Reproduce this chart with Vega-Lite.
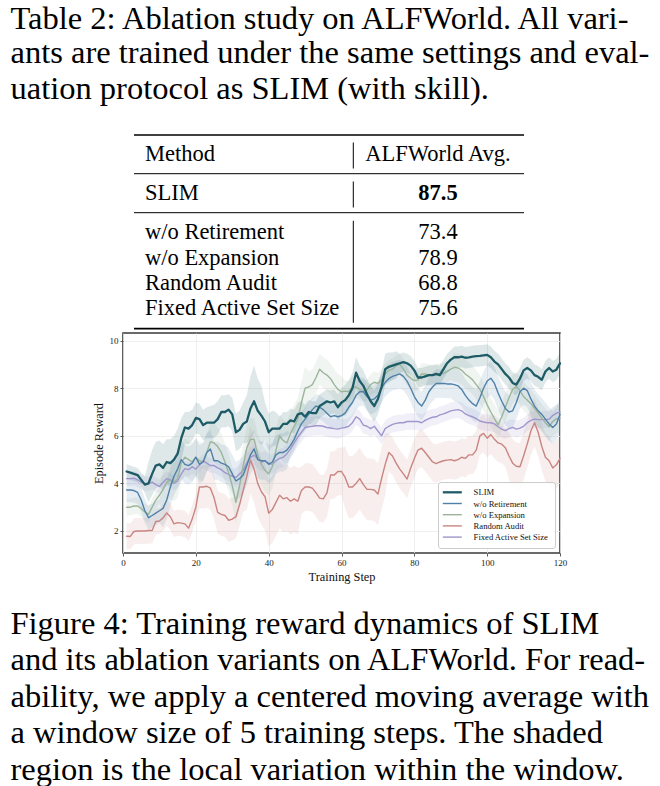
{
"$schema": "https://vega.github.io/schema/vega-lite/v6.json",
"padding": 0,
"background": "white",
"spacing": 0,
"resolve": {"scale": {"stroke": "independent", "fill": "independent"}, "legend": {"stroke": "independent", "fill": "independent"}},
"config": {"font": "Liberation Serif", "view": {"stroke": null}, "concat": {"spacing": 0}},
"datasets": {
"table": [
{"row":0,"method":"Method","value":"ALFWorld Avg."},
{"row":1,"method":"SLIM","value":"87.5"},
{"row":2,"method":"w/o Retirement","value":"73.4"},
{"row":3,"method":"w/o Expansion","value":"78.9"},
{"row":4,"method":"Random Audit","value":"68.8"},
{"row":5,"method":"Fixed Active Set Size","value":"75.6"}
],
"curves": [
{"series":"Random Audit","step":1,"reward":1.78,"lo":1.23,"hi":2.33},
{"series":"Random Audit","step":2,"reward":1.77,"lo":1.22,"hi":2.32},
{"series":"Random Audit","step":3,"reward":1.98,"lo":1.43,"hi":2.53},
{"series":"Random Audit","step":4,"reward":2.00,"lo":1.45,"hi":2.55},
{"series":"Random Audit","step":5,"reward":2.00,"lo":1.45,"hi":2.55},
{"series":"Random Audit","step":6,"reward":2.00,"lo":1.45,"hi":2.55},
{"series":"Random Audit","step":7,"reward":2.02,"lo":1.47,"hi":2.57},
{"series":"Random Audit","step":8,"reward":2.02,"lo":1.47,"hi":2.57},
{"series":"Random Audit","step":9,"reward":2.40,"lo":1.85,"hi":2.95},
{"series":"Random Audit","step":10,"reward":2.42,"lo":1.87,"hi":2.97},
{"series":"Random Audit","step":11,"reward":2.55,"lo":2.00,"hi":3.10},
{"series":"Random Audit","step":12,"reward":2.76,"lo":2.21,"hi":3.31},
{"series":"Random Audit","step":13,"reward":2.60,"lo":2.05,"hi":3.15},
{"series":"Random Audit","step":14,"reward":2.30,"lo":1.75,"hi":2.85},
{"series":"Random Audit","step":15,"reward":2.35,"lo":1.80,"hi":2.90},
{"series":"Random Audit","step":16,"reward":2.33,"lo":1.78,"hi":2.88},
{"series":"Random Audit","step":17,"reward":2.30,"lo":1.75,"hi":2.85},
{"series":"Random Audit","step":18,"reward":2.12,"lo":1.57,"hi":2.67},
{"series":"Random Audit","step":19,"reward":2.50,"lo":1.95,"hi":3.05},
{"series":"Random Audit","step":20,"reward":3.00,"lo":2.45,"hi":3.55},
{"series":"Random Audit","step":21,"reward":3.85,"lo":2.95,"hi":4.75},
{"series":"Random Audit","step":22,"reward":3.85,"lo":2.95,"hi":4.75},
{"series":"Random Audit","step":23,"reward":3.88,"lo":2.98,"hi":4.78},
{"series":"Random Audit","step":24,"reward":3.80,"lo":2.90,"hi":4.70},
{"series":"Random Audit","step":25,"reward":3.40,"lo":2.50,"hi":4.30},
{"series":"Random Audit","step":26,"reward":2.78,"lo":1.88,"hi":3.68},
{"series":"Random Audit","step":27,"reward":2.70,"lo":1.80,"hi":3.60},
{"series":"Random Audit","step":28,"reward":2.65,"lo":1.75,"hi":3.55},
{"series":"Random Audit","step":29,"reward":2.45,"lo":1.55,"hi":3.35},
{"series":"Random Audit","step":30,"reward":2.50,"lo":1.60,"hi":3.40},
{"series":"Random Audit","step":31,"reward":2.60,"lo":1.70,"hi":3.50},
{"series":"Random Audit","step":32,"reward":3.10,"lo":2.20,"hi":4.00},
{"series":"Random Audit","step":33,"reward":3.70,"lo":2.80,"hi":4.60},
{"series":"Random Audit","step":34,"reward":4.30,"lo":2.90,"hi":5.70},
{"series":"Random Audit","step":35,"reward":4.98,"lo":3.58,"hi":6.38},
{"series":"Random Audit","step":36,"reward":4.60,"lo":3.20,"hi":6.00},
{"series":"Random Audit","step":37,"reward":4.00,"lo":2.60,"hi":5.40},
{"series":"Random Audit","step":38,"reward":3.65,"lo":2.25,"hi":5.05},
{"series":"Random Audit","step":39,"reward":3.44,"lo":2.04,"hi":4.84},
{"series":"Random Audit","step":40,"reward":2.75,"lo":1.35,"hi":4.15},
{"series":"Random Audit","step":41,"reward":2.90,"lo":1.50,"hi":4.30},
{"series":"Random Audit","step":42,"reward":3.20,"lo":1.80,"hi":4.60},
{"series":"Random Audit","step":43,"reward":3.50,"lo":2.10,"hi":4.90},
{"series":"Random Audit","step":44,"reward":3.35,"lo":1.95,"hi":4.75},
{"series":"Random Audit","step":45,"reward":3.40,"lo":2.00,"hi":4.80},
{"series":"Random Audit","step":46,"reward":3.25,"lo":1.85,"hi":4.65},
{"series":"Random Audit","step":47,"reward":3.35,"lo":1.95,"hi":4.75},
{"series":"Random Audit","step":48,"reward":3.25,"lo":1.85,"hi":4.65},
{"series":"Random Audit","step":49,"reward":3.70,"lo":2.70,"hi":4.70},
{"series":"Random Audit","step":50,"reward":3.85,"lo":2.85,"hi":4.85},
{"series":"Random Audit","step":51,"reward":3.85,"lo":2.85,"hi":4.85},
{"series":"Random Audit","step":52,"reward":3.80,"lo":2.80,"hi":4.80},
{"series":"Random Audit","step":53,"reward":3.60,"lo":2.60,"hi":4.60},
{"series":"Random Audit","step":54,"reward":3.38,"lo":2.38,"hi":4.38},
{"series":"Random Audit","step":55,"reward":3.35,"lo":2.35,"hi":4.35},
{"series":"Random Audit","step":56,"reward":3.60,"lo":2.60,"hi":4.60},
{"series":"Random Audit","step":57,"reward":4.35,"lo":3.35,"hi":5.35},
{"series":"Random Audit","step":58,"reward":4.35,"lo":3.35,"hi":5.35},
{"series":"Random Audit","step":59,"reward":4.50,"lo":3.50,"hi":5.50},
{"series":"Random Audit","step":60,"reward":4.50,"lo":3.50,"hi":5.50},
{"series":"Random Audit","step":61,"reward":4.25,"lo":2.95,"hi":5.55},
{"series":"Random Audit","step":62,"reward":3.85,"lo":2.55,"hi":5.15},
{"series":"Random Audit","step":63,"reward":3.85,"lo":2.55,"hi":5.15},
{"series":"Random Audit","step":64,"reward":4.00,"lo":2.70,"hi":5.30},
{"series":"Random Audit","step":65,"reward":4.20,"lo":2.90,"hi":5.50},
{"series":"Random Audit","step":66,"reward":3.95,"lo":2.65,"hi":5.25},
{"series":"Random Audit","step":67,"reward":3.75,"lo":2.45,"hi":5.05},
{"series":"Random Audit","step":68,"reward":3.75,"lo":2.45,"hi":5.05},
{"series":"Random Audit","step":69,"reward":3.72,"lo":2.42,"hi":5.02},
{"series":"Random Audit","step":70,"reward":3.55,"lo":2.25,"hi":4.85},
{"series":"Random Audit","step":71,"reward":4.20,"lo":2.90,"hi":5.50},
{"series":"Random Audit","step":72,"reward":4.80,"lo":3.50,"hi":6.10},
{"series":"Random Audit","step":73,"reward":5.30,"lo":4.50,"hi":6.10},
{"series":"Random Audit","step":74,"reward":5.15,"lo":4.35,"hi":5.95},
{"series":"Random Audit","step":75,"reward":4.85,"lo":4.05,"hi":5.65},
{"series":"Random Audit","step":76,"reward":4.60,"lo":3.80,"hi":5.40},
{"series":"Random Audit","step":77,"reward":4.40,"lo":3.60,"hi":5.20},
{"series":"Random Audit","step":78,"reward":4.18,"lo":3.38,"hi":4.98},
{"series":"Random Audit","step":79,"reward":4.65,"lo":3.85,"hi":5.45},
{"series":"Random Audit","step":80,"reward":5.05,"lo":4.25,"hi":5.85},
{"series":"Random Audit","step":81,"reward":5.40,"lo":4.60,"hi":6.20},
{"series":"Random Audit","step":82,"reward":5.48,"lo":4.68,"hi":6.28},
{"series":"Random Audit","step":83,"reward":5.30,"lo":4.50,"hi":6.10},
{"series":"Random Audit","step":84,"reward":5.10,"lo":4.30,"hi":5.90},
{"series":"Random Audit","step":85,"reward":4.90,"lo":4.10,"hi":5.70},
{"series":"Random Audit","step":86,"reward":4.83,"lo":4.03,"hi":5.63},
{"series":"Random Audit","step":87,"reward":4.90,"lo":4.10,"hi":5.70},
{"series":"Random Audit","step":88,"reward":4.95,"lo":4.15,"hi":5.75},
{"series":"Random Audit","step":89,"reward":4.98,"lo":4.18,"hi":5.78},
{"series":"Random Audit","step":90,"reward":5.00,"lo":4.20,"hi":5.80},
{"series":"Random Audit","step":91,"reward":4.95,"lo":4.15,"hi":5.75},
{"series":"Random Audit","step":92,"reward":5.00,"lo":4.20,"hi":5.80},
{"series":"Random Audit","step":93,"reward":5.10,"lo":4.30,"hi":5.90},
{"series":"Random Audit","step":94,"reward":5.05,"lo":4.25,"hi":5.85},
{"series":"Random Audit","step":95,"reward":5.20,"lo":4.40,"hi":6.00},
{"series":"Random Audit","step":96,"reward":5.20,"lo":4.40,"hi":6.00},
{"series":"Random Audit","step":97,"reward":5.40,"lo":4.60,"hi":6.20},
{"series":"Random Audit","step":98,"reward":6.00,"lo":5.20,"hi":6.80},
{"series":"Random Audit","step":99,"reward":6.10,"lo":5.30,"hi":6.90},
{"series":"Random Audit","step":100,"reward":5.90,"lo":5.10,"hi":6.70},
{"series":"Random Audit","step":101,"reward":6.05,"lo":5.25,"hi":6.85},
{"series":"Random Audit","step":102,"reward":5.85,"lo":5.05,"hi":6.65},
{"series":"Random Audit","step":103,"reward":5.70,"lo":4.90,"hi":6.50},
{"series":"Random Audit","step":104,"reward":5.65,"lo":4.85,"hi":6.45},
{"series":"Random Audit","step":105,"reward":5.50,"lo":4.70,"hi":6.30},
{"series":"Random Audit","step":106,"reward":5.15,"lo":4.15,"hi":6.15},
{"series":"Random Audit","step":107,"reward":4.85,"lo":3.85,"hi":5.85},
{"series":"Random Audit","step":108,"reward":4.72,"lo":3.72,"hi":5.72},
{"series":"Random Audit","step":109,"reward":4.70,"lo":3.70,"hi":5.70},
{"series":"Random Audit","step":110,"reward":5.15,"lo":4.15,"hi":6.15},
{"series":"Random Audit","step":111,"reward":5.65,"lo":4.65,"hi":6.65},
{"series":"Random Audit","step":112,"reward":6.20,"lo":5.20,"hi":7.20},
{"series":"Random Audit","step":113,"reward":6.55,"lo":5.55,"hi":7.55},
{"series":"Random Audit","step":114,"reward":6.15,"lo":5.15,"hi":7.15},
{"series":"Random Audit","step":115,"reward":5.55,"lo":4.55,"hi":6.55},
{"series":"Random Audit","step":116,"reward":5.10,"lo":4.10,"hi":6.10},
{"series":"Random Audit","step":117,"reward":4.95,"lo":3.95,"hi":5.95},
{"series":"Random Audit","step":118,"reward":4.65,"lo":3.65,"hi":5.65},
{"series":"Random Audit","step":119,"reward":4.78,"lo":3.78,"hi":5.78},
{"series":"Random Audit","step":120,"reward":5.05,"lo":4.05,"hi":6.05},
{"series":"Fixed Active Set Size","step":1,"reward":4.20,"lo":3.90,"hi":4.50},
{"series":"Fixed Active Set Size","step":2,"reward":4.20,"lo":3.90,"hi":4.50},
{"series":"Fixed Active Set Size","step":3,"reward":4.22,"lo":3.92,"hi":4.52},
{"series":"Fixed Active Set Size","step":4,"reward":4.15,"lo":3.85,"hi":4.45},
{"series":"Fixed Active Set Size","step":5,"reward":4.05,"lo":3.75,"hi":4.35},
{"series":"Fixed Active Set Size","step":6,"reward":4.00,"lo":3.70,"hi":4.30},
{"series":"Fixed Active Set Size","step":7,"reward":3.98,"lo":3.68,"hi":4.28},
{"series":"Fixed Active Set Size","step":8,"reward":4.05,"lo":3.75,"hi":4.35},
{"series":"Fixed Active Set Size","step":9,"reward":3.95,"lo":3.65,"hi":4.25},
{"series":"Fixed Active Set Size","step":10,"reward":3.87,"lo":3.57,"hi":4.17},
{"series":"Fixed Active Set Size","step":11,"reward":4.05,"lo":3.75,"hi":4.35},
{"series":"Fixed Active Set Size","step":12,"reward":4.20,"lo":3.90,"hi":4.50},
{"series":"Fixed Active Set Size","step":13,"reward":4.15,"lo":3.85,"hi":4.45},
{"series":"Fixed Active Set Size","step":14,"reward":4.00,"lo":3.70,"hi":4.30},
{"series":"Fixed Active Set Size","step":15,"reward":4.10,"lo":3.80,"hi":4.40},
{"series":"Fixed Active Set Size","step":16,"reward":4.40,"lo":4.10,"hi":4.70},
{"series":"Fixed Active Set Size","step":17,"reward":4.62,"lo":4.32,"hi":4.92},
{"series":"Fixed Active Set Size","step":18,"reward":4.58,"lo":4.28,"hi":4.88},
{"series":"Fixed Active Set Size","step":19,"reward":4.70,"lo":4.40,"hi":5.00},
{"series":"Fixed Active Set Size","step":20,"reward":4.60,"lo":4.30,"hi":4.90},
{"series":"Fixed Active Set Size","step":21,"reward":4.78,"lo":4.48,"hi":5.08},
{"series":"Fixed Active Set Size","step":22,"reward":4.95,"lo":4.65,"hi":5.25},
{"series":"Fixed Active Set Size","step":23,"reward":4.85,"lo":4.55,"hi":5.15},
{"series":"Fixed Active Set Size","step":24,"reward":4.75,"lo":4.45,"hi":5.05},
{"series":"Fixed Active Set Size","step":25,"reward":4.75,"lo":4.45,"hi":5.05},
{"series":"Fixed Active Set Size","step":26,"reward":4.65,"lo":4.35,"hi":4.95},
{"series":"Fixed Active Set Size","step":27,"reward":4.58,"lo":4.28,"hi":4.88},
{"series":"Fixed Active Set Size","step":28,"reward":4.45,"lo":4.15,"hi":4.75},
{"series":"Fixed Active Set Size","step":29,"reward":4.38,"lo":4.08,"hi":4.68},
{"series":"Fixed Active Set Size","step":30,"reward":4.30,"lo":4.00,"hi":4.60},
{"series":"Fixed Active Set Size","step":31,"reward":4.25,"lo":3.85,"hi":4.65},
{"series":"Fixed Active Set Size","step":32,"reward":4.40,"lo":4.00,"hi":4.80},
{"series":"Fixed Active Set Size","step":33,"reward":4.55,"lo":4.15,"hi":4.95},
{"series":"Fixed Active Set Size","step":34,"reward":4.85,"lo":4.45,"hi":5.25},
{"series":"Fixed Active Set Size","step":35,"reward":5.10,"lo":4.70,"hi":5.50},
{"series":"Fixed Active Set Size","step":36,"reward":5.18,"lo":4.78,"hi":5.58},
{"series":"Fixed Active Set Size","step":37,"reward":5.05,"lo":4.65,"hi":5.45},
{"series":"Fixed Active Set Size","step":38,"reward":4.90,"lo":4.50,"hi":5.30},
{"series":"Fixed Active Set Size","step":39,"reward":4.95,"lo":4.55,"hi":5.35},
{"series":"Fixed Active Set Size","step":40,"reward":4.85,"lo":4.45,"hi":5.25},
{"series":"Fixed Active Set Size","step":41,"reward":4.80,"lo":4.40,"hi":5.20},
{"series":"Fixed Active Set Size","step":42,"reward":4.95,"lo":4.55,"hi":5.35},
{"series":"Fixed Active Set Size","step":43,"reward":5.05,"lo":4.65,"hi":5.45},
{"series":"Fixed Active Set Size","step":44,"reward":5.10,"lo":4.70,"hi":5.50},
{"series":"Fixed Active Set Size","step":45,"reward":5.25,"lo":4.85,"hi":5.65},
{"series":"Fixed Active Set Size","step":46,"reward":5.45,"lo":5.05,"hi":5.85},
{"series":"Fixed Active Set Size","step":47,"reward":5.70,"lo":5.30,"hi":6.10},
{"series":"Fixed Active Set Size","step":48,"reward":5.95,"lo":5.55,"hi":6.35},
{"series":"Fixed Active Set Size","step":49,"reward":6.15,"lo":5.75,"hi":6.55},
{"series":"Fixed Active Set Size","step":50,"reward":6.35,"lo":5.95,"hi":6.75},
{"series":"Fixed Active Set Size","step":51,"reward":6.38,"lo":5.98,"hi":6.78},
{"series":"Fixed Active Set Size","step":52,"reward":6.40,"lo":6.00,"hi":6.80},
{"series":"Fixed Active Set Size","step":53,"reward":6.42,"lo":6.02,"hi":6.82},
{"series":"Fixed Active Set Size","step":54,"reward":6.42,"lo":6.02,"hi":6.82},
{"series":"Fixed Active Set Size","step":55,"reward":6.40,"lo":6.00,"hi":6.80},
{"series":"Fixed Active Set Size","step":56,"reward":6.35,"lo":5.95,"hi":6.75},
{"series":"Fixed Active Set Size","step":57,"reward":6.33,"lo":5.93,"hi":6.73},
{"series":"Fixed Active Set Size","step":58,"reward":6.30,"lo":5.90,"hi":6.70},
{"series":"Fixed Active Set Size","step":59,"reward":6.28,"lo":5.88,"hi":6.68},
{"series":"Fixed Active Set Size","step":60,"reward":6.32,"lo":5.92,"hi":6.72},
{"series":"Fixed Active Set Size","step":61,"reward":6.35,"lo":6.00,"hi":6.70},
{"series":"Fixed Active Set Size","step":62,"reward":6.40,"lo":6.05,"hi":6.75},
{"series":"Fixed Active Set Size","step":63,"reward":6.55,"lo":6.20,"hi":6.90},
{"series":"Fixed Active Set Size","step":64,"reward":6.80,"lo":6.45,"hi":7.15},
{"series":"Fixed Active Set Size","step":65,"reward":6.70,"lo":6.35,"hi":7.05},
{"series":"Fixed Active Set Size","step":66,"reward":6.45,"lo":6.10,"hi":6.80},
{"series":"Fixed Active Set Size","step":67,"reward":6.40,"lo":6.05,"hi":6.75},
{"series":"Fixed Active Set Size","step":68,"reward":6.30,"lo":5.95,"hi":6.65},
{"series":"Fixed Active Set Size","step":69,"reward":6.40,"lo":6.05,"hi":6.75},
{"series":"Fixed Active Set Size","step":70,"reward":6.20,"lo":5.85,"hi":6.55},
{"series":"Fixed Active Set Size","step":71,"reward":6.00,"lo":5.65,"hi":6.35},
{"series":"Fixed Active Set Size","step":72,"reward":6.30,"lo":5.95,"hi":6.65},
{"series":"Fixed Active Set Size","step":73,"reward":6.40,"lo":6.05,"hi":6.75},
{"series":"Fixed Active Set Size","step":74,"reward":6.48,"lo":6.13,"hi":6.83},
{"series":"Fixed Active Set Size","step":75,"reward":6.52,"lo":6.17,"hi":6.87},
{"series":"Fixed Active Set Size","step":76,"reward":6.55,"lo":6.20,"hi":6.90},
{"series":"Fixed Active Set Size","step":77,"reward":6.55,"lo":6.20,"hi":6.90},
{"series":"Fixed Active Set Size","step":78,"reward":6.60,"lo":6.25,"hi":6.95},
{"series":"Fixed Active Set Size","step":79,"reward":6.60,"lo":6.25,"hi":6.95},
{"series":"Fixed Active Set Size","step":80,"reward":6.60,"lo":6.25,"hi":6.95},
{"series":"Fixed Active Set Size","step":81,"reward":6.60,"lo":6.25,"hi":6.95},
{"series":"Fixed Active Set Size","step":82,"reward":6.55,"lo":6.20,"hi":6.90},
{"series":"Fixed Active Set Size","step":83,"reward":6.65,"lo":6.30,"hi":7.00},
{"series":"Fixed Active Set Size","step":84,"reward":6.72,"lo":6.37,"hi":7.07},
{"series":"Fixed Active Set Size","step":85,"reward":6.78,"lo":6.43,"hi":7.13},
{"series":"Fixed Active Set Size","step":86,"reward":6.80,"lo":6.45,"hi":7.15},
{"series":"Fixed Active Set Size","step":87,"reward":6.88,"lo":6.53,"hi":7.23},
{"series":"Fixed Active Set Size","step":88,"reward":6.92,"lo":6.57,"hi":7.27},
{"series":"Fixed Active Set Size","step":89,"reward":6.98,"lo":6.63,"hi":7.33},
{"series":"Fixed Active Set Size","step":90,"reward":7.05,"lo":6.70,"hi":7.40},
{"series":"Fixed Active Set Size","step":91,"reward":7.08,"lo":6.73,"hi":7.43},
{"series":"Fixed Active Set Size","step":92,"reward":7.10,"lo":6.75,"hi":7.45},
{"series":"Fixed Active Set Size","step":93,"reward":7.05,"lo":6.70,"hi":7.40},
{"series":"Fixed Active Set Size","step":94,"reward":6.92,"lo":6.57,"hi":7.27},
{"series":"Fixed Active Set Size","step":95,"reward":6.85,"lo":6.50,"hi":7.20},
{"series":"Fixed Active Set Size","step":96,"reward":6.80,"lo":6.45,"hi":7.15},
{"series":"Fixed Active Set Size","step":97,"reward":6.72,"lo":6.37,"hi":7.07},
{"series":"Fixed Active Set Size","step":98,"reward":6.62,"lo":6.27,"hi":6.97},
{"series":"Fixed Active Set Size","step":99,"reward":6.58,"lo":6.23,"hi":6.93},
{"series":"Fixed Active Set Size","step":100,"reward":6.55,"lo":6.20,"hi":6.90},
{"series":"Fixed Active Set Size","step":101,"reward":6.55,"lo":6.20,"hi":6.90},
{"series":"Fixed Active Set Size","step":102,"reward":6.50,"lo":6.15,"hi":6.85},
{"series":"Fixed Active Set Size","step":103,"reward":6.38,"lo":6.03,"hi":6.73},
{"series":"Fixed Active Set Size","step":104,"reward":6.28,"lo":5.93,"hi":6.63},
{"series":"Fixed Active Set Size","step":105,"reward":6.22,"lo":5.87,"hi":6.57},
{"series":"Fixed Active Set Size","step":106,"reward":6.30,"lo":5.95,"hi":6.65},
{"series":"Fixed Active Set Size","step":107,"reward":6.35,"lo":6.00,"hi":6.70},
{"series":"Fixed Active Set Size","step":108,"reward":6.28,"lo":5.93,"hi":6.63},
{"series":"Fixed Active Set Size","step":109,"reward":6.32,"lo":5.97,"hi":6.67},
{"series":"Fixed Active Set Size","step":110,"reward":6.40,"lo":6.05,"hi":6.75},
{"series":"Fixed Active Set Size","step":111,"reward":6.55,"lo":6.20,"hi":6.90},
{"series":"Fixed Active Set Size","step":112,"reward":6.65,"lo":6.30,"hi":7.00},
{"series":"Fixed Active Set Size","step":113,"reward":6.70,"lo":6.35,"hi":7.05},
{"series":"Fixed Active Set Size","step":114,"reward":6.68,"lo":6.33,"hi":7.03},
{"series":"Fixed Active Set Size","step":115,"reward":6.68,"lo":6.33,"hi":7.03},
{"series":"Fixed Active Set Size","step":116,"reward":6.68,"lo":6.33,"hi":7.03},
{"series":"Fixed Active Set Size","step":117,"reward":6.70,"lo":6.35,"hi":7.05},
{"series":"Fixed Active Set Size","step":118,"reward":6.85,"lo":6.50,"hi":7.20},
{"series":"Fixed Active Set Size","step":119,"reward":6.95,"lo":6.60,"hi":7.30},
{"series":"Fixed Active Set Size","step":120,"reward":7.00,"lo":6.65,"hi":7.35},
{"series":"w/o Expansion","step":1,"reward":3.00,"lo":2.65,"hi":3.35},
{"series":"w/o Expansion","step":2,"reward":3.00,"lo":2.65,"hi":3.35},
{"series":"w/o Expansion","step":3,"reward":3.05,"lo":2.70,"hi":3.40},
{"series":"w/o Expansion","step":4,"reward":3.05,"lo":2.70,"hi":3.40},
{"series":"w/o Expansion","step":5,"reward":2.95,"lo":2.60,"hi":3.30},
{"series":"w/o Expansion","step":6,"reward":2.80,"lo":2.45,"hi":3.15},
{"series":"w/o Expansion","step":7,"reward":2.70,"lo":2.35,"hi":3.05},
{"series":"w/o Expansion","step":8,"reward":3.00,"lo":2.65,"hi":3.35},
{"series":"w/o Expansion","step":9,"reward":3.30,"lo":2.95,"hi":3.65},
{"series":"w/o Expansion","step":10,"reward":3.50,"lo":3.15,"hi":3.85},
{"series":"w/o Expansion","step":11,"reward":3.75,"lo":2.95,"hi":4.55},
{"series":"w/o Expansion","step":12,"reward":4.05,"lo":3.25,"hi":4.85},
{"series":"w/o Expansion","step":13,"reward":4.15,"lo":3.35,"hi":4.95},
{"series":"w/o Expansion","step":14,"reward":4.05,"lo":3.25,"hi":4.85},
{"series":"w/o Expansion","step":15,"reward":4.20,"lo":3.40,"hi":5.00},
{"series":"w/o Expansion","step":16,"reward":4.85,"lo":4.05,"hi":5.65},
{"series":"w/o Expansion","step":17,"reward":5.10,"lo":4.30,"hi":5.90},
{"series":"w/o Expansion","step":18,"reward":5.00,"lo":4.20,"hi":5.80},
{"series":"w/o Expansion","step":19,"reward":4.90,"lo":4.10,"hi":5.70},
{"series":"w/o Expansion","step":20,"reward":5.10,"lo":4.30,"hi":5.90},
{"series":"w/o Expansion","step":21,"reward":4.95,"lo":4.15,"hi":5.75},
{"series":"w/o Expansion","step":22,"reward":4.90,"lo":4.10,"hi":5.70},
{"series":"w/o Expansion","step":23,"reward":5.30,"lo":4.50,"hi":6.10},
{"series":"w/o Expansion","step":24,"reward":5.75,"lo":4.95,"hi":6.55},
{"series":"w/o Expansion","step":25,"reward":5.70,"lo":4.90,"hi":6.50},
{"series":"w/o Expansion","step":26,"reward":5.55,"lo":4.75,"hi":6.35},
{"series":"w/o Expansion","step":27,"reward":5.30,"lo":4.50,"hi":6.10},
{"series":"w/o Expansion","step":28,"reward":4.90,"lo":4.10,"hi":5.70},
{"series":"w/o Expansion","step":29,"reward":4.45,"lo":3.65,"hi":5.25},
{"series":"w/o Expansion","step":30,"reward":3.90,"lo":3.10,"hi":4.70},
{"series":"w/o Expansion","step":31,"reward":3.20,"lo":2.30,"hi":4.10},
{"series":"w/o Expansion","step":32,"reward":3.90,"lo":3.00,"hi":4.80},
{"series":"w/o Expansion","step":33,"reward":4.75,"lo":3.85,"hi":5.65},
{"series":"w/o Expansion","step":34,"reward":5.50,"lo":4.60,"hi":6.40},
{"series":"w/o Expansion","step":35,"reward":5.85,"lo":4.95,"hi":6.75},
{"series":"w/o Expansion","step":36,"reward":5.85,"lo":4.95,"hi":6.75},
{"series":"w/o Expansion","step":37,"reward":5.20,"lo":4.30,"hi":6.10},
{"series":"w/o Expansion","step":38,"reward":4.80,"lo":3.90,"hi":5.70},
{"series":"w/o Expansion","step":39,"reward":4.55,"lo":3.65,"hi":5.45},
{"series":"w/o Expansion","step":40,"reward":4.40,"lo":3.50,"hi":5.30},
{"series":"w/o Expansion","step":41,"reward":4.70,"lo":3.80,"hi":5.60},
{"series":"w/o Expansion","step":42,"reward":5.40,"lo":4.50,"hi":6.30},
{"series":"w/o Expansion","step":43,"reward":6.00,"lo":5.10,"hi":6.90},
{"series":"w/o Expansion","step":44,"reward":5.80,"lo":4.90,"hi":6.70},
{"series":"w/o Expansion","step":45,"reward":5.70,"lo":4.80,"hi":6.60},
{"series":"w/o Expansion","step":46,"reward":6.10,"lo":5.20,"hi":7.00},
{"series":"w/o Expansion","step":47,"reward":6.40,"lo":5.50,"hi":7.30},
{"series":"w/o Expansion","step":48,"reward":6.70,"lo":5.80,"hi":7.60},
{"series":"w/o Expansion","step":49,"reward":7.40,"lo":6.50,"hi":8.30},
{"series":"w/o Expansion","step":50,"reward":8.00,"lo":7.10,"hi":8.90},
{"series":"w/o Expansion","step":51,"reward":8.05,"lo":7.40,"hi":8.70},
{"series":"w/o Expansion","step":52,"reward":8.15,"lo":7.50,"hi":8.80},
{"series":"w/o Expansion","step":53,"reward":8.45,"lo":7.80,"hi":9.10},
{"series":"w/o Expansion","step":54,"reward":8.80,"lo":8.15,"hi":9.45},
{"series":"w/o Expansion","step":55,"reward":8.65,"lo":8.00,"hi":9.30},
{"series":"w/o Expansion","step":56,"reward":8.55,"lo":7.90,"hi":9.20},
{"series":"w/o Expansion","step":57,"reward":8.40,"lo":7.75,"hi":9.05},
{"series":"w/o Expansion","step":58,"reward":8.15,"lo":7.50,"hi":8.80},
{"series":"w/o Expansion","step":59,"reward":7.95,"lo":7.30,"hi":8.60},
{"series":"w/o Expansion","step":60,"reward":7.85,"lo":7.20,"hi":8.50},
{"series":"w/o Expansion","step":61,"reward":7.88,"lo":7.43,"hi":8.33},
{"series":"w/o Expansion","step":62,"reward":7.85,"lo":7.40,"hi":8.30},
{"series":"w/o Expansion","step":63,"reward":8.05,"lo":7.60,"hi":8.50},
{"series":"w/o Expansion","step":64,"reward":8.05,"lo":7.60,"hi":8.50},
{"series":"w/o Expansion","step":65,"reward":7.95,"lo":7.50,"hi":8.40},
{"series":"w/o Expansion","step":66,"reward":7.88,"lo":7.43,"hi":8.33},
{"series":"w/o Expansion","step":67,"reward":7.92,"lo":7.47,"hi":8.37},
{"series":"w/o Expansion","step":68,"reward":8.15,"lo":7.70,"hi":8.60},
{"series":"w/o Expansion","step":69,"reward":8.25,"lo":7.80,"hi":8.70},
{"series":"w/o Expansion","step":70,"reward":8.20,"lo":7.75,"hi":8.65},
{"series":"w/o Expansion","step":71,"reward":8.35,"lo":7.90,"hi":8.80},
{"series":"w/o Expansion","step":72,"reward":8.60,"lo":8.15,"hi":9.05},
{"series":"w/o Expansion","step":73,"reward":8.75,"lo":8.30,"hi":9.20},
{"series":"w/o Expansion","step":74,"reward":8.80,"lo":8.35,"hi":9.25},
{"series":"w/o Expansion","step":75,"reward":8.95,"lo":8.50,"hi":9.40},
{"series":"w/o Expansion","step":76,"reward":9.00,"lo":8.55,"hi":9.45},
{"series":"w/o Expansion","step":77,"reward":8.80,"lo":8.35,"hi":9.25},
{"series":"w/o Expansion","step":78,"reward":8.55,"lo":8.10,"hi":9.00},
{"series":"w/o Expansion","step":79,"reward":8.42,"lo":7.97,"hi":8.87},
{"series":"w/o Expansion","step":80,"reward":8.32,"lo":7.87,"hi":8.77},
{"series":"w/o Expansion","step":81,"reward":8.35,"lo":7.90,"hi":8.80},
{"series":"w/o Expansion","step":82,"reward":8.60,"lo":8.15,"hi":9.05},
{"series":"w/o Expansion","step":83,"reward":8.60,"lo":8.15,"hi":9.05},
{"series":"w/o Expansion","step":84,"reward":8.55,"lo":8.10,"hi":9.00},
{"series":"w/o Expansion","step":85,"reward":8.55,"lo":8.10,"hi":9.00},
{"series":"w/o Expansion","step":86,"reward":8.55,"lo":8.10,"hi":9.00},
{"series":"w/o Expansion","step":87,"reward":8.60,"lo":8.15,"hi":9.05},
{"series":"w/o Expansion","step":88,"reward":8.62,"lo":8.17,"hi":9.07},
{"series":"w/o Expansion","step":89,"reward":8.70,"lo":8.25,"hi":9.15},
{"series":"w/o Expansion","step":90,"reward":8.80,"lo":8.35,"hi":9.25},
{"series":"w/o Expansion","step":91,"reward":8.88,"lo":8.28,"hi":9.48},
{"series":"w/o Expansion","step":92,"reward":8.85,"lo":8.25,"hi":9.45},
{"series":"w/o Expansion","step":93,"reward":8.75,"lo":8.15,"hi":9.35},
{"series":"w/o Expansion","step":94,"reward":8.60,"lo":8.00,"hi":9.20},
{"series":"w/o Expansion","step":95,"reward":8.48,"lo":7.88,"hi":9.08},
{"series":"w/o Expansion","step":96,"reward":8.35,"lo":7.75,"hi":8.95},
{"series":"w/o Expansion","step":97,"reward":8.15,"lo":7.55,"hi":8.75},
{"series":"w/o Expansion","step":98,"reward":7.95,"lo":7.35,"hi":8.55},
{"series":"w/o Expansion","step":99,"reward":7.65,"lo":7.05,"hi":8.25},
{"series":"w/o Expansion","step":100,"reward":7.30,"lo":6.70,"hi":7.90},
{"series":"w/o Expansion","step":101,"reward":7.00,"lo":6.40,"hi":7.60},
{"series":"w/o Expansion","step":102,"reward":6.72,"lo":6.12,"hi":7.32},
{"series":"w/o Expansion","step":103,"reward":6.46,"lo":5.86,"hi":7.06},
{"series":"w/o Expansion","step":104,"reward":6.80,"lo":6.20,"hi":7.40},
{"series":"w/o Expansion","step":105,"reward":7.20,"lo":6.60,"hi":7.80},
{"series":"w/o Expansion","step":106,"reward":7.60,"lo":7.00,"hi":8.20},
{"series":"w/o Expansion","step":107,"reward":7.95,"lo":7.35,"hi":8.55},
{"series":"w/o Expansion","step":108,"reward":8.08,"lo":7.48,"hi":8.68},
{"series":"w/o Expansion","step":109,"reward":7.90,"lo":7.30,"hi":8.50},
{"series":"w/o Expansion","step":110,"reward":7.65,"lo":7.05,"hi":8.25},
{"series":"w/o Expansion","step":111,"reward":7.50,"lo":6.90,"hi":8.10},
{"series":"w/o Expansion","step":112,"reward":7.35,"lo":6.75,"hi":7.95},
{"series":"w/o Expansion","step":113,"reward":7.15,"lo":6.55,"hi":7.75},
{"series":"w/o Expansion","step":114,"reward":6.95,"lo":6.35,"hi":7.55},
{"series":"w/o Expansion","step":115,"reward":6.75,"lo":6.15,"hi":7.35},
{"series":"w/o Expansion","step":116,"reward":6.55,"lo":5.95,"hi":7.15},
{"series":"w/o Expansion","step":117,"reward":6.38,"lo":5.78,"hi":6.98},
{"series":"w/o Expansion","step":118,"reward":6.60,"lo":6.00,"hi":7.20},
{"series":"w/o Expansion","step":119,"reward":6.72,"lo":6.12,"hi":7.32},
{"series":"w/o Expansion","step":120,"reward":6.74,"lo":6.14,"hi":7.34},
{"series":"w/o Retirement","step":1,"reward":3.72,"lo":3.22,"hi":4.22},
{"series":"w/o Retirement","step":2,"reward":3.72,"lo":3.22,"hi":4.22},
{"series":"w/o Retirement","step":3,"reward":3.70,"lo":3.20,"hi":4.20},
{"series":"w/o Retirement","step":4,"reward":3.62,"lo":3.12,"hi":4.12},
{"series":"w/o Retirement","step":5,"reward":3.30,"lo":2.80,"hi":3.80},
{"series":"w/o Retirement","step":6,"reward":2.85,"lo":2.35,"hi":3.35},
{"series":"w/o Retirement","step":7,"reward":2.56,"lo":2.06,"hi":3.06},
{"series":"w/o Retirement","step":8,"reward":2.65,"lo":2.15,"hi":3.15},
{"series":"w/o Retirement","step":9,"reward":2.75,"lo":2.25,"hi":3.25},
{"series":"w/o Retirement","step":10,"reward":2.85,"lo":2.35,"hi":3.35},
{"series":"w/o Retirement","step":11,"reward":2.95,"lo":2.15,"hi":3.75},
{"series":"w/o Retirement","step":12,"reward":3.30,"lo":2.50,"hi":4.10},
{"series":"w/o Retirement","step":13,"reward":3.85,"lo":3.05,"hi":4.65},
{"series":"w/o Retirement","step":14,"reward":4.30,"lo":3.50,"hi":5.10},
{"series":"w/o Retirement","step":15,"reward":4.60,"lo":3.80,"hi":5.40},
{"series":"w/o Retirement","step":16,"reward":5.00,"lo":4.20,"hi":5.80},
{"series":"w/o Retirement","step":17,"reward":4.80,"lo":4.00,"hi":5.60},
{"series":"w/o Retirement","step":18,"reward":4.75,"lo":3.95,"hi":5.55},
{"series":"w/o Retirement","step":19,"reward":4.85,"lo":4.05,"hi":5.65},
{"series":"w/o Retirement","step":20,"reward":5.10,"lo":4.30,"hi":5.90},
{"series":"w/o Retirement","step":21,"reward":4.80,"lo":4.00,"hi":5.60},
{"series":"w/o Retirement","step":22,"reward":4.90,"lo":4.10,"hi":5.70},
{"series":"w/o Retirement","step":23,"reward":5.30,"lo":4.50,"hi":6.10},
{"series":"w/o Retirement","step":24,"reward":5.45,"lo":4.65,"hi":6.25},
{"series":"w/o Retirement","step":25,"reward":4.95,"lo":4.15,"hi":5.75},
{"series":"w/o Retirement","step":26,"reward":4.95,"lo":4.15,"hi":5.75},
{"series":"w/o Retirement","step":27,"reward":4.85,"lo":4.05,"hi":5.65},
{"series":"w/o Retirement","step":28,"reward":4.80,"lo":4.00,"hi":5.60},
{"series":"w/o Retirement","step":29,"reward":4.70,"lo":3.90,"hi":5.50},
{"series":"w/o Retirement","step":30,"reward":4.40,"lo":3.60,"hi":5.20},
{"series":"w/o Retirement","step":31,"reward":4.10,"lo":3.30,"hi":4.90},
{"series":"w/o Retirement","step":32,"reward":4.20,"lo":3.40,"hi":5.00},
{"series":"w/o Retirement","step":33,"reward":4.35,"lo":3.55,"hi":5.15},
{"series":"w/o Retirement","step":34,"reward":4.75,"lo":3.95,"hi":5.55},
{"series":"w/o Retirement","step":35,"reward":5.20,"lo":4.40,"hi":6.00},
{"series":"w/o Retirement","step":36,"reward":5.45,"lo":4.65,"hi":6.25},
{"series":"w/o Retirement","step":37,"reward":5.00,"lo":4.20,"hi":5.80},
{"series":"w/o Retirement","step":38,"reward":4.95,"lo":4.15,"hi":5.75},
{"series":"w/o Retirement","step":39,"reward":4.95,"lo":4.15,"hi":5.75},
{"series":"w/o Retirement","step":40,"reward":4.80,"lo":4.00,"hi":5.60},
{"series":"w/o Retirement","step":41,"reward":4.90,"lo":4.10,"hi":5.70},
{"series":"w/o Retirement","step":42,"reward":5.20,"lo":4.40,"hi":6.00},
{"series":"w/o Retirement","step":43,"reward":5.30,"lo":4.50,"hi":6.10},
{"series":"w/o Retirement","step":44,"reward":5.30,"lo":4.50,"hi":6.10},
{"series":"w/o Retirement","step":45,"reward":5.40,"lo":4.60,"hi":6.20},
{"series":"w/o Retirement","step":46,"reward":5.60,"lo":5.10,"hi":6.10},
{"series":"w/o Retirement","step":47,"reward":5.85,"lo":5.35,"hi":6.35},
{"series":"w/o Retirement","step":48,"reward":6.20,"lo":5.70,"hi":6.70},
{"series":"w/o Retirement","step":49,"reward":6.50,"lo":6.00,"hi":7.00},
{"series":"w/o Retirement","step":50,"reward":6.70,"lo":6.20,"hi":7.20},
{"series":"w/o Retirement","step":51,"reward":6.90,"lo":6.40,"hi":7.40},
{"series":"w/o Retirement","step":52,"reward":7.10,"lo":6.60,"hi":7.60},
{"series":"w/o Retirement","step":53,"reward":7.25,"lo":6.75,"hi":7.75},
{"series":"w/o Retirement","step":54,"reward":7.20,"lo":6.70,"hi":7.70},
{"series":"w/o Retirement","step":55,"reward":7.10,"lo":6.60,"hi":7.60},
{"series":"w/o Retirement","step":56,"reward":6.95,"lo":6.45,"hi":7.45},
{"series":"w/o Retirement","step":57,"reward":6.80,"lo":6.30,"hi":7.30},
{"series":"w/o Retirement","step":58,"reward":6.85,"lo":6.35,"hi":7.35},
{"series":"w/o Retirement","step":59,"reward":6.80,"lo":6.30,"hi":7.30},
{"series":"w/o Retirement","step":60,"reward":6.85,"lo":6.35,"hi":7.35},
{"series":"w/o Retirement","step":61,"reward":6.95,"lo":6.35,"hi":7.55},
{"series":"w/o Retirement","step":62,"reward":7.20,"lo":6.60,"hi":7.80},
{"series":"w/o Retirement","step":63,"reward":7.40,"lo":6.80,"hi":8.00},
{"series":"w/o Retirement","step":64,"reward":7.70,"lo":7.10,"hi":8.30},
{"series":"w/o Retirement","step":65,"reward":7.85,"lo":7.25,"hi":8.45},
{"series":"w/o Retirement","step":66,"reward":7.85,"lo":7.25,"hi":8.45},
{"series":"w/o Retirement","step":67,"reward":7.65,"lo":7.05,"hi":8.25},
{"series":"w/o Retirement","step":68,"reward":7.50,"lo":6.90,"hi":8.10},
{"series":"w/o Retirement","step":69,"reward":7.55,"lo":6.95,"hi":8.15},
{"series":"w/o Retirement","step":70,"reward":7.70,"lo":7.10,"hi":8.30},
{"series":"w/o Retirement","step":71,"reward":8.00,"lo":7.40,"hi":8.60},
{"series":"w/o Retirement","step":72,"reward":8.25,"lo":7.65,"hi":8.85},
{"series":"w/o Retirement","step":73,"reward":8.40,"lo":7.80,"hi":9.00},
{"series":"w/o Retirement","step":74,"reward":8.50,"lo":7.90,"hi":9.10},
{"series":"w/o Retirement","step":75,"reward":8.55,"lo":7.95,"hi":9.15},
{"series":"w/o Retirement","step":76,"reward":8.60,"lo":8.00,"hi":9.20},
{"series":"w/o Retirement","step":77,"reward":8.50,"lo":7.90,"hi":9.10},
{"series":"w/o Retirement","step":78,"reward":8.30,"lo":7.70,"hi":8.90},
{"series":"w/o Retirement","step":79,"reward":8.00,"lo":7.40,"hi":8.60},
{"series":"w/o Retirement","step":80,"reward":7.65,"lo":7.05,"hi":8.25},
{"series":"w/o Retirement","step":81,"reward":7.40,"lo":6.80,"hi":8.00},
{"series":"w/o Retirement","step":82,"reward":7.25,"lo":6.65,"hi":7.85},
{"series":"w/o Retirement","step":83,"reward":7.50,"lo":6.90,"hi":8.10},
{"series":"w/o Retirement","step":84,"reward":7.85,"lo":7.25,"hi":8.45},
{"series":"w/o Retirement","step":85,"reward":8.05,"lo":7.45,"hi":8.65},
{"series":"w/o Retirement","step":86,"reward":8.20,"lo":7.60,"hi":8.80},
{"series":"w/o Retirement","step":87,"reward":8.20,"lo":7.60,"hi":8.80},
{"series":"w/o Retirement","step":88,"reward":8.20,"lo":7.60,"hi":8.80},
{"series":"w/o Retirement","step":89,"reward":8.18,"lo":7.58,"hi":8.78},
{"series":"w/o Retirement","step":90,"reward":8.18,"lo":7.58,"hi":8.78},
{"series":"w/o Retirement","step":91,"reward":8.15,"lo":7.45,"hi":8.85},
{"series":"w/o Retirement","step":92,"reward":8.10,"lo":7.40,"hi":8.80},
{"series":"w/o Retirement","step":93,"reward":7.95,"lo":7.25,"hi":8.65},
{"series":"w/o Retirement","step":94,"reward":7.70,"lo":7.00,"hi":8.40},
{"series":"w/o Retirement","step":95,"reward":7.50,"lo":6.80,"hi":8.20},
{"series":"w/o Retirement","step":96,"reward":7.35,"lo":6.65,"hi":8.05},
{"series":"w/o Retirement","step":97,"reward":7.25,"lo":6.55,"hi":7.95},
{"series":"w/o Retirement","step":98,"reward":7.60,"lo":6.90,"hi":8.30},
{"series":"w/o Retirement","step":99,"reward":8.00,"lo":7.30,"hi":8.70},
{"series":"w/o Retirement","step":100,"reward":8.30,"lo":7.60,"hi":9.00},
{"series":"w/o Retirement","step":101,"reward":8.42,"lo":7.72,"hi":9.12},
{"series":"w/o Retirement","step":102,"reward":8.20,"lo":7.50,"hi":8.90},
{"series":"w/o Retirement","step":103,"reward":7.80,"lo":7.10,"hi":8.50},
{"series":"w/o Retirement","step":104,"reward":7.45,"lo":6.75,"hi":8.15},
{"series":"w/o Retirement","step":105,"reward":7.15,"lo":6.45,"hi":7.85},
{"series":"w/o Retirement","step":106,"reward":7.00,"lo":6.30,"hi":7.70},
{"series":"w/o Retirement","step":107,"reward":7.05,"lo":6.35,"hi":7.75},
{"series":"w/o Retirement","step":108,"reward":7.40,"lo":6.70,"hi":8.10},
{"series":"w/o Retirement","step":109,"reward":7.85,"lo":7.15,"hi":8.55},
{"series":"w/o Retirement","step":110,"reward":8.00,"lo":7.30,"hi":8.70},
{"series":"w/o Retirement","step":111,"reward":7.90,"lo":7.20,"hi":8.60},
{"series":"w/o Retirement","step":112,"reward":7.55,"lo":6.85,"hi":8.25},
{"series":"w/o Retirement","step":113,"reward":7.25,"lo":6.55,"hi":7.95},
{"series":"w/o Retirement","step":114,"reward":7.05,"lo":6.35,"hi":7.75},
{"series":"w/o Retirement","step":115,"reward":6.90,"lo":6.20,"hi":7.60},
{"series":"w/o Retirement","step":116,"reward":6.70,"lo":6.00,"hi":7.40},
{"series":"w/o Retirement","step":117,"reward":6.50,"lo":5.80,"hi":7.20},
{"series":"w/o Retirement","step":118,"reward":6.35,"lo":5.65,"hi":7.05},
{"series":"w/o Retirement","step":119,"reward":6.50,"lo":5.80,"hi":7.20},
{"series":"w/o Retirement","step":120,"reward":6.90,"lo":6.20,"hi":7.60},
{"series":"SLIM","step":1,"reward":4.50,"lo":4.20,"hi":4.80},
{"series":"SLIM","step":2,"reward":4.45,"lo":4.15,"hi":4.75},
{"series":"SLIM","step":3,"reward":4.40,"lo":4.10,"hi":4.70},
{"series":"SLIM","step":4,"reward":4.35,"lo":4.05,"hi":4.65},
{"series":"SLIM","step":5,"reward":4.15,"lo":3.85,"hi":4.45},
{"series":"SLIM","step":6,"reward":3.95,"lo":3.60,"hi":4.30},
{"series":"SLIM","step":7,"reward":4.00,"lo":3.20,"hi":4.90},
{"series":"SLIM","step":8,"reward":4.40,"lo":3.50,"hi":5.40},
{"series":"SLIM","step":9,"reward":4.75,"lo":3.80,"hi":5.75},
{"series":"SLIM","step":10,"reward":4.80,"lo":3.85,"hi":5.80},
{"series":"SLIM","step":11,"reward":4.65,"lo":3.70,"hi":5.65},
{"series":"SLIM","step":12,"reward":4.90,"lo":3.95,"hi":5.85},
{"series":"SLIM","step":13,"reward":4.85,"lo":3.90,"hi":5.85},
{"series":"SLIM","step":14,"reward":5.00,"lo":4.05,"hi":6.00},
{"series":"SLIM","step":15,"reward":5.25,"lo":4.30,"hi":6.30},
{"series":"SLIM","step":16,"reward":5.90,"lo":4.95,"hi":6.75},
{"series":"SLIM","step":17,"reward":6.35,"lo":5.65,"hi":7.00},
{"series":"SLIM","step":18,"reward":6.30,"lo":5.65,"hi":7.00},
{"series":"SLIM","step":19,"reward":6.45,"lo":5.80,"hi":7.10},
{"series":"SLIM","step":20,"reward":6.75,"lo":6.10,"hi":7.40},
{"series":"SLIM","step":21,"reward":6.70,"lo":6.05,"hi":7.35},
{"series":"SLIM","step":22,"reward":6.45,"lo":5.80,"hi":7.10},
{"series":"SLIM","step":23,"reward":6.55,"lo":5.90,"hi":7.20},
{"series":"SLIM","step":24,"reward":6.55,"lo":5.90,"hi":7.25},
{"series":"SLIM","step":25,"reward":6.55,"lo":5.90,"hi":7.30},
{"series":"SLIM","step":26,"reward":6.70,"lo":6.05,"hi":7.45},
{"series":"SLIM","step":27,"reward":7.00,"lo":6.35,"hi":7.70},
{"series":"SLIM","step":28,"reward":7.00,"lo":6.35,"hi":7.70},
{"series":"SLIM","step":29,"reward":7.10,"lo":6.40,"hi":7.75},
{"series":"SLIM","step":30,"reward":6.90,"lo":6.20,"hi":7.60},
{"series":"SLIM","step":31,"reward":6.15,"lo":5.35,"hi":6.95},
{"series":"SLIM","step":32,"reward":6.25,"lo":5.45,"hi":7.05},
{"series":"SLIM","step":33,"reward":6.50,"lo":5.70,"hi":7.40},
{"series":"SLIM","step":34,"reward":6.60,"lo":5.70,"hi":7.70},
{"series":"SLIM","step":35,"reward":7.15,"lo":5.90,"hi":8.50},
{"series":"SLIM","step":36,"reward":7.45,"lo":6.15,"hi":8.95},
{"series":"SLIM","step":37,"reward":7.05,"lo":5.80,"hi":8.40},
{"series":"SLIM","step":38,"reward":6.85,"lo":5.60,"hi":8.10},
{"series":"SLIM","step":39,"reward":6.60,"lo":5.80,"hi":7.40},
{"series":"SLIM","step":40,"reward":6.15,"lo":5.35,"hi":6.95},
{"series":"SLIM","step":41,"reward":6.30,"lo":5.55,"hi":7.05},
{"series":"SLIM","step":42,"reward":6.30,"lo":5.60,"hi":7.00},
{"series":"SLIM","step":43,"reward":6.30,"lo":5.80,"hi":6.80},
{"series":"SLIM","step":44,"reward":6.50,"lo":6.00,"hi":7.00},
{"series":"SLIM","step":45,"reward":6.50,"lo":6.00,"hi":7.00},
{"series":"SLIM","step":46,"reward":6.65,"lo":6.15,"hi":7.15},
{"series":"SLIM","step":47,"reward":6.60,"lo":6.10,"hi":7.10},
{"series":"SLIM","step":48,"reward":6.90,"lo":6.40,"hi":7.40},
{"series":"SLIM","step":49,"reward":6.95,"lo":6.45,"hi":7.45},
{"series":"SLIM","step":50,"reward":6.80,"lo":6.30,"hi":7.30},
{"series":"SLIM","step":51,"reward":7.00,"lo":6.50,"hi":7.50},
{"series":"SLIM","step":52,"reward":6.95,"lo":6.45,"hi":7.45},
{"series":"SLIM","step":53,"reward":6.95,"lo":6.45,"hi":7.45},
{"series":"SLIM","step":54,"reward":7.25,"lo":6.75,"hi":7.75},
{"series":"SLIM","step":55,"reward":7.35,"lo":6.85,"hi":7.85},
{"series":"SLIM","step":56,"reward":7.45,"lo":6.95,"hi":7.95},
{"series":"SLIM","step":57,"reward":7.40,"lo":6.90,"hi":7.90},
{"series":"SLIM","step":58,"reward":7.45,"lo":6.95,"hi":7.95},
{"series":"SLIM","step":59,"reward":7.20,"lo":6.65,"hi":7.75},
{"series":"SLIM","step":60,"reward":7.40,"lo":6.80,"hi":8.00},
{"series":"SLIM","step":61,"reward":7.50,"lo":6.85,"hi":8.15},
{"series":"SLIM","step":62,"reward":7.70,"lo":7.05,"hi":8.35},
{"series":"SLIM","step":63,"reward":8.00,"lo":7.35,"hi":8.65},
{"series":"SLIM","step":64,"reward":8.65,"lo":8.00,"hi":9.30},
{"series":"SLIM","step":65,"reward":8.30,"lo":7.65,"hi":8.95},
{"series":"SLIM","step":66,"reward":8.10,"lo":7.45,"hi":8.75},
{"series":"SLIM","step":67,"reward":7.75,"lo":7.10,"hi":8.40},
{"series":"SLIM","step":68,"reward":7.45,"lo":6.80,"hi":8.10},
{"series":"SLIM","step":69,"reward":7.25,"lo":6.60,"hi":7.90},
{"series":"SLIM","step":70,"reward":7.55,"lo":6.90,"hi":8.20},
{"series":"SLIM","step":71,"reward":8.05,"lo":7.40,"hi":8.70},
{"series":"SLIM","step":72,"reward":8.80,"lo":8.15,"hi":9.45},
{"series":"SLIM","step":73,"reward":8.90,"lo":8.25,"hi":9.50},
{"series":"SLIM","step":74,"reward":8.95,"lo":8.35,"hi":9.50},
{"series":"SLIM","step":75,"reward":9.00,"lo":8.40,"hi":9.55},
{"series":"SLIM","step":76,"reward":9.05,"lo":8.65,"hi":9.45},
{"series":"SLIM","step":77,"reward":9.10,"lo":8.70,"hi":9.50},
{"series":"SLIM","step":78,"reward":9.05,"lo":8.65,"hi":9.45},
{"series":"SLIM","step":79,"reward":8.95,"lo":8.55,"hi":9.35},
{"series":"SLIM","step":80,"reward":8.75,"lo":8.35,"hi":9.15},
{"series":"SLIM","step":81,"reward":8.45,"lo":8.05,"hi":8.85},
{"series":"SLIM","step":82,"reward":8.45,"lo":8.05,"hi":8.85},
{"series":"SLIM","step":83,"reward":8.50,"lo":8.10,"hi":8.90},
{"series":"SLIM","step":84,"reward":8.55,"lo":8.15,"hi":8.95},
{"series":"SLIM","step":85,"reward":8.55,"lo":8.15,"hi":8.95},
{"series":"SLIM","step":86,"reward":8.60,"lo":8.20,"hi":9.00},
{"series":"SLIM","step":87,"reward":8.55,"lo":8.15,"hi":8.95},
{"series":"SLIM","step":88,"reward":8.80,"lo":8.40,"hi":9.20},
{"series":"SLIM","step":89,"reward":9.05,"lo":8.65,"hi":9.45},
{"series":"SLIM","step":90,"reward":9.20,"lo":8.80,"hi":9.60},
{"series":"SLIM","step":91,"reward":9.30,"lo":8.85,"hi":9.75},
{"series":"SLIM","step":92,"reward":9.30,"lo":8.85,"hi":9.75},
{"series":"SLIM","step":93,"reward":9.33,"lo":8.88,"hi":9.78},
{"series":"SLIM","step":94,"reward":9.28,"lo":8.83,"hi":9.73},
{"series":"SLIM","step":95,"reward":9.30,"lo":8.85,"hi":9.75},
{"series":"SLIM","step":96,"reward":9.33,"lo":8.88,"hi":9.78},
{"series":"SLIM","step":97,"reward":9.35,"lo":8.90,"hi":9.80},
{"series":"SLIM","step":98,"reward":9.36,"lo":8.91,"hi":9.81},
{"series":"SLIM","step":99,"reward":9.38,"lo":8.93,"hi":9.83},
{"series":"SLIM","step":100,"reward":9.40,"lo":8.95,"hi":9.85},
{"series":"SLIM","step":101,"reward":9.30,"lo":8.85,"hi":9.75},
{"series":"SLIM","step":102,"reward":9.12,"lo":8.67,"hi":9.57},
{"series":"SLIM","step":103,"reward":9.00,"lo":8.55,"hi":9.45},
{"series":"SLIM","step":104,"reward":8.80,"lo":8.35,"hi":9.25},
{"series":"SLIM","step":105,"reward":8.60,"lo":8.15,"hi":9.05},
{"series":"SLIM","step":106,"reward":8.45,"lo":8.00,"hi":8.90},
{"series":"SLIM","step":107,"reward":8.22,"lo":7.77,"hi":8.67},
{"series":"SLIM","step":108,"reward":8.15,"lo":7.70,"hi":8.60},
{"series":"SLIM","step":109,"reward":8.40,"lo":7.95,"hi":8.85},
{"series":"SLIM","step":110,"reward":8.75,"lo":8.30,"hi":9.20},
{"series":"SLIM","step":111,"reward":8.85,"lo":8.40,"hi":9.30},
{"series":"SLIM","step":112,"reward":8.75,"lo":8.30,"hi":9.20},
{"series":"SLIM","step":113,"reward":8.55,"lo":8.10,"hi":9.00},
{"series":"SLIM","step":114,"reward":8.48,"lo":8.03,"hi":8.93},
{"series":"SLIM","step":115,"reward":8.35,"lo":7.90,"hi":8.80},
{"series":"SLIM","step":116,"reward":8.70,"lo":8.25,"hi":9.15},
{"series":"SLIM","step":117,"reward":8.85,"lo":8.40,"hi":9.30},
{"series":"SLIM","step":118,"reward":8.70,"lo":8.25,"hi":9.15},
{"series":"SLIM","step":119,"reward":8.78,"lo":8.33,"hi":9.23},
{"series":"SLIM","step":120,"reward":9.05,"lo":8.60,"hi":9.50}
]
},
"vconcat": [
{
"width": 660, "height": 118,
"data": {"values": [
{"line": 1, "text": "Table 2: Ablation study on ALFWorld. All vari-"},
{"line": 2, "text": "ants are trained under the same settings and eval-"},
{"line": 3, "text": "uation protocol as SLIM (with skill)."}
]},
"mark": {"type": "text", "align": "left", "baseline": "alphabetic", "fontSize": 32.5, "color": "#000000"},
"encoding": {
"x": {"datum": 0, "type": "quantitative", "scale": {"domain": [0, 1], "range": [10.5, 660]}, "axis": null},
"y": {"field": "line", "type": "quantitative", "scale": {"domain": [1, 2, 3], "range": [29, 63, 98.8], "nice": false, "zero": false}, "axis": null},
"text": {"field": "text"}
}
},
{
"spacing": 0,
"hconcat": [
{"width": 133, "height": 20, "data": {"values": [{}]}, "mark": "text", "encoding": {"text": {"value": ""}}},
{
"width": 390, "height": 214,
"layer": [
{"data": {"values": [{"at": -0.5}, {"at": 5.5}]},
 "mark": {"type": "rule", "strokeWidth": 1.7, "color": "#000000"},
 "encoding": {"y": {"field": "at", "type": "quantitative", "scale": {"domain": [-0.5, 0, 0.5, 1, 1.5, 2, 5, 5.5], "range": [17, 43, 55.7, 82, 94.7, 121.3, 197.3, 210.7], "nice": false, "zero": false}, "axis": null}}},
{"data": {"values": [{"at": 0.5}, {"at": 1.5}]},
 "mark": {"type": "rule", "strokeWidth": 1, "color": "#000000"},
 "encoding": {"y": {"field": "at", "type": "quantitative", "axis": null}}},
{"data": {"values": [{"from": 0, "to": 0}, {"from": 1, "to": 1}, {"from": 2, "to": 5}]},
 "mark": {"type": "rule", "strokeWidth": 1, "color": "#000000", "yOffset": -18.5, "y2Offset": 7.5},
 "encoding": {
  "x": {"datum": 0.5, "type": "quantitative", "scale": {"domain": [0, 0.5, 1], "range": [11, 219.3, 304], "nice": false, "zero": false}, "axis": null},
  "y": {"field": "from", "type": "quantitative", "axis": null},
  "y2": {"field": "to"}}},
{"data": {"name": "table"},
 "mark": {"type": "text", "align": "left", "baseline": "alphabetic", "fontSize": 22.5, "color": "#000000"},
 "encoding": {
  "x": {"datum": 0, "type": "quantitative", "axis": null},
  "y": {"field": "row", "type": "quantitative", "axis": null},
  "text": {"field": "method"}}},
{"data": {"name": "table"},
 "transform": [{"filter": "datum.row !== 1"}],
 "mark": {"type": "text", "align": "center", "baseline": "alphabetic", "fontSize": 22.5, "color": "#000000"},
 "encoding": {
  "x": {"datum": 1, "type": "quantitative", "axis": null},
  "y": {"field": "row", "type": "quantitative", "axis": null},
  "text": {"field": "value"}}},
{"data": {"name": "table"},
 "transform": [{"filter": "datum.row === 1"}],
 "mark": {"type": "text", "align": "center", "baseline": "alphabetic", "fontSize": 22.5, "fontWeight": "bold", "color": "#000000"},
 "encoding": {
  "x": {"datum": 1, "type": "quantitative", "axis": null},
  "y": {"field": "row", "type": "quantitative", "axis": null},
  "text": {"field": "value"}}}
]
}
]
},
{
"spacing": 0,
"resolve": {"scale": {"stroke": "independent", "fill": "independent"}, "legend": {"stroke": "independent", "fill": "independent"}},
"hconcat": [
{"width": 91, "height": 20, "data": {"values": [{}]}, "mark": "text", "encoding": {"text": {"value": ""}}},
{
"width": 437, "height": 220,
"view": {"stroke": "#3a3a3a", "strokeWidth": 1.6},
"data": {"name": "curves"},
"encoding": {
"x": {"field": "step", "type": "quantitative", "scale": {"domain": [0, 120], "nice": false, "zero": false},
 "axis": {"values": [0, 20, 40, 60, 80, 100, 120], "title": "Training Step", "titleFontSize": 12.3, "titleFontWeight": "normal", "titleColor": "#111111", "titlePadding": 3, "labelFontSize": 9, "labelColor": "#222222", "labelPadding": 2, "labelFlush": false, "labelOverlap": false, "tickSize": 3, "tickColor": "#333333", "tickWidth": 0.8, "domain": false, "grid": true, "gridColor": "#ebebeb", "gridWidth": 0.8}}
},
"layer": [
{"mark": {"type": "area", "fillOpacity": 0.14, "interpolate": "linear"},
 "encoding": {
  "y": {"field": "lo", "type": "quantitative", "stack": null, "scale": {"domain": [1.075, 10.32], "nice": false, "zero": false},
   "axis": {"values": [2, 4, 6, 8, 10], "title": "Episode Reward", "titleFontSize": 12.3, "titleFontWeight": "normal", "titleColor": "#111111", "titlePadding": 4, "labelFontSize": 9, "labelColor": "#222222", "labelPadding": 2, "tickSize": 3, "tickColor": "#333333", "tickWidth": 0.8, "domain": false, "grid": true, "gridColor": "#ebebeb", "gridWidth": 0.8}},
  "y2": {"field": "hi"},
  "fill": {"field": "series", "type": "nominal", "scale": {"domain": ["Fixed Active Set Size", "Random Audit", "w/o Expansion", "w/o Retirement", "SLIM"], "range": ["#9f96cc", "#c98581", "#9bb59c", "#4f80a8", "#1d5b66"]}, "legend": null}
 }},
{"mark": {"type": "line", "strokeJoin": "round", "strokeCap": "round"},
 "encoding": {
  "y": {"field": "reward", "type": "quantitative",
   "axis": {"values": [2, 4, 6, 8, 10], "title": "Episode Reward", "titleFontSize": 12.3, "titleFontWeight": "normal", "titleColor": "#111111", "titlePadding": 4, "labelFontSize": 9, "labelColor": "#222222", "labelPadding": 2, "tickSize": 3, "tickColor": "#333333", "tickWidth": 0.8, "domain": false, "grid": true, "gridColor": "#ebebeb", "gridWidth": 0.8}},
  "stroke": {"field": "series", "type": "nominal", "scale": {"domain": ["SLIM", "w/o Retirement", "w/o Expansion", "Random Audit", "Fixed Active Set Size"], "range": ["#1d5b66", "#4f80a8", "#9bb59c", "#c98581", "#9f96cc"]},
   "legend": {"title": null, "orient": "bottom-right", "offset": 5.5, "padding": 6, "labelFontSize": 8.6, "labelColor": "#111111", "symbolType": "M-2,0H2", "symbolSize": 90, "symbolStrokeWidth": 1.4, "symbolOffset": 4, "rowPadding": 2.2, "labelOffset": 17, "strokeColor": "#cccccc", "fillColor": "rgba(255,255,255,0.85)", "cornerRadius": 2.5,
    "encode": {"symbols": {"update": {"strokeWidth": {"signal": "datum.value === 'SLIM' ? 2.3 : 1.4"}}}}}},
  "strokeWidth": {"condition": {"test": "datum.series === 'SLIM'", "value": 2.3}, "value": 1.4}
 }}
]
}
]
},
{
"width": 660, "height": 204,
"data": {"values": [
{"line": 1, "text": "Figure 4: Training reward dynamics of SLIM"},
{"line": 2, "text": "and its ablation variants on ALFWorld. For read-"},
{"line": 3, "text": "ability, we apply a centered moving average with"},
{"line": 4, "text": "a window size of 5 training steps. The shaded"},
{"line": 5, "text": "region is the local variation within the window."}
]},
"mark": {"type": "text", "align": "left", "baseline": "alphabetic", "fontSize": 32.5, "color": "#000000"},
"encoding": {
"x": {"datum": 0, "type": "quantitative", "scale": {"domain": [0, 1], "range": [10.5, 660]}, "axis": null},
"y": {"field": "line", "type": "quantitative", "scale": {"domain": [1, 5], "range": [49.5, 195.5], "nice": false, "zero": false}, "axis": null},
"text": {"field": "text"}
}
}
]
}
